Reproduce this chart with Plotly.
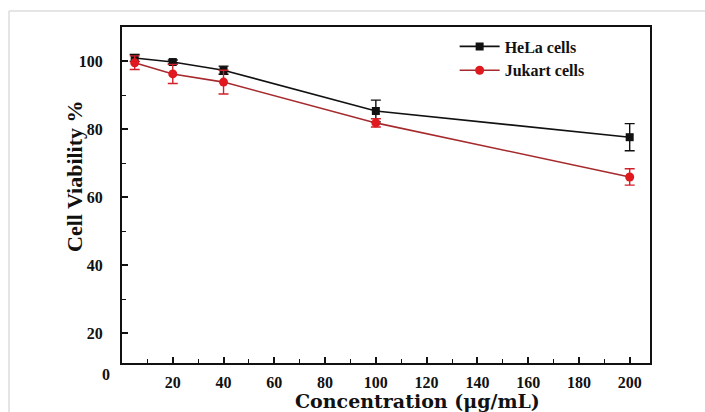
import plotly.graph_objects as go

conc = [5, 20, 40, 100, 200]
hela = [100.9, 99.7, 97.3, 85.3, 77.6]
hela_err = [1.0, 0.6, 1.2, 3.2, 4.0]
jukart = [99.5, 96.2, 93.8, 81.8, 65.9]
jukart_err = [2.0, 2.8, 3.5, 1.2, 2.4]

x_ticks = [20, 40, 60, 80, 100, 120, 140, 160, 180, 200]
y_ticks = [20, 40, 60, 80, 100]

FONT = "Liberation Serif"
L, R, T, B = 122, 650, 27, 363
PW, PH = R - L, B - T


def px(x):
    return (x - L) / PW


def py(y):
    return (B - y) / PH


fig = go.Figure()
fig.add_trace(go.Scatter(
    x=conc, y=hela, mode="lines+markers", name="<b>HeLa cells</b>",
    line=dict(color="#111111", width=1.6),
    marker=dict(symbol="square", size=8, color="#111111"),
    error_y=dict(type="data", array=hela_err, color="#111111", thickness=1.4, width=5),
))
fig.add_trace(go.Scatter(
    x=conc, y=jukart, mode="lines+markers", name="<b>Jukart cells</b>",
    line=dict(color="#a62a2d", width=1.6),
    marker=dict(symbol="circle", size=9, color="#e0191f"),
    error_y=dict(type="data", array=jukart_err, color="#d0202a", thickness=1.4, width=5),
))

fig.update_layout(
    width=705, height=412,
    margin=dict(l=L, r=705 - R, t=T, b=412 - B),
    paper_bgcolor="white", plot_bgcolor="white",
    font=dict(family=FONT, size=16, color="#111111"),
    showlegend=True,
    legend=dict(x=0.63, y=py(29.5), xanchor="left", yanchor="top",
                bgcolor="rgba(0,0,0,0)", font=dict(family=FONT, size=16, color="#111111"),
                itemwidth=40, tracegroupgap=0),
    xaxis=dict(
        range=[0, 208], tickmode="array", tickvals=x_ticks,
        ticktext=[f"<b>{v}</b>" for v in x_ticks],
        ticks="inside", ticklen=6, tickwidth=1.5, tickcolor="#111111",
        minor=dict(tickmode="array", tickvals=[10, 30, 50, 70, 90, 110, 130, 150, 170, 190],
                   ticks="inside", ticklen=4, tickwidth=1.3, tickcolor="#111111"),
        showline=True, linecolor="#111111", linewidth=2, mirror=True,
        showgrid=False, zeroline=False,
        ticklabelstandoff=4,
    ),
    yaxis=dict(
        range=[11.2, 110], tickmode="array", tickvals=y_ticks,
        ticktext=[f"<b>{v}</b>" for v in y_ticks],
        ticks="inside", ticklen=6, tickwidth=1.5, tickcolor="#111111",
        minor=dict(tickmode="array", tickvals=[30, 50, 70, 90],
                   ticks="inside", ticklen=4, tickwidth=1.3, tickcolor="#111111"),
        showline=True, linecolor="#111111", linewidth=2, mirror=True,
        showgrid=False, zeroline=False,
        ticklabelstandoff=14,
    ),
)

fig.add_annotation(text="<b>0</b>", xref="paper", yref="paper",
                   x=px(106), y=py(374), showarrow=False, xanchor="center", yanchor="middle",
                   font=dict(family=FONT, size=16, color="#111111"))
fig.add_annotation(text="<b>Concentration (μg/mL)</b>", xref="paper", yref="paper",
                   x=px(417), y=py(401), showarrow=False, xanchor="center", yanchor="middle",
                   font=dict(family="DejaVu Serif", size=19, color="#111111"))
fig.add_annotation(text="<b>Cell Viability %</b>", xref="paper", yref="paper",
                   x=px(74), y=py(176), showarrow=False, textangle=-90,
                   xanchor="center", yanchor="middle",
                   font=dict(family=FONT, size=22, color="#111111"))

# light grey page frame
fig.add_shape(type="line", xref="paper", yref="paper",
              x0=px(9), x1=px(705), y0=py(11), y1=py(11),
              line=dict(color="#dddddd", width=1.5))
fig.add_shape(type="line", xref="paper", yref="paper",
              x0=px(9), x1=px(9), y0=py(11), y1=py(412),
              line=dict(color="#dddddd", width=1.5))

fig.write_html("out.html", config={"displayModeBar": False},
               post_script="document.body.style.margin='0px';document.body.style.overflow='hidden';")
